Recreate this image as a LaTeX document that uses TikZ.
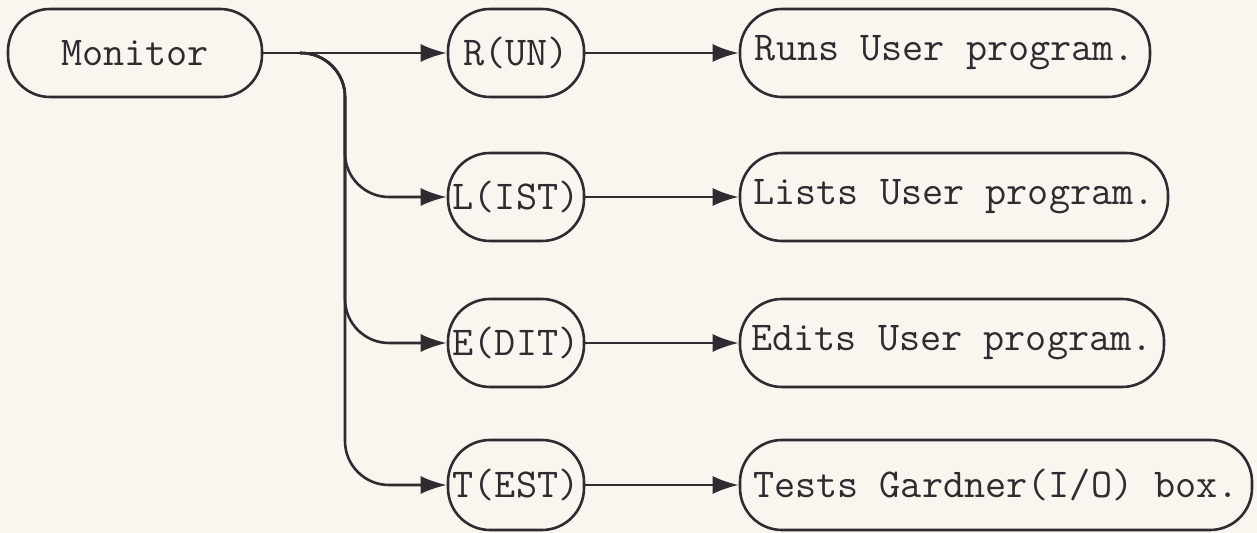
\documentclass[tikz,border=0pt]{standalone}
\usetikzlibrary{arrows.meta}
\definecolor{bg}{HTML}{F8F6EF}
\definecolor{ink}{HTML}{2E2C30}
\begin{document}
\begin{tikzpicture}[x=0.5pt,y=-0.5pt,
  box/.style={draw=ink,line width=1.3pt,rounded corners=21pt,minimum height=44pt,
    inner sep=0pt,text=ink,font=\fontsize{20.5}{22}\selectfont\ttfamily},
  conn/.style={draw=ink,line width=1.3pt,-{Latex[length=13pt,width=9pt]}},
  feed/.style={conn,rounded corners=22pt}]
\path[fill=bg] (0,0) rectangle (1257,533);
\node[box,minimum width=127pt] (mon) at (135,53) {Monitor};
\node[box,minimum width=68pt] (run) at (516,53) {R(UN)};
\node[box,minimum width=68pt] (lst) at (516,197) {L(IST)};
\node[box,minimum width=68pt] (edt) at (516,343) {E(DIT)};
\node[box,minimum width=68pt,minimum height=45pt] (tst) at (516,485) {T(EST)};
\node[box,minimum width=205pt] (runs) at (945,53) {Runs User program.};
\node[box,minimum width=214pt] (lists) at (954,197) {Lists User program.};
\node[box,minimum width=212pt] (edits) at (952,343) {Edits User program.};
\node[box,minimum width=256pt,minimum height=45pt] (tests) at (996,485) {Tests Gardner(I/O) box.};
\coordinate (split) at (300,53);
\coordinate (trunk) at (345,53);
\draw[conn] (mon.east) -- (run.west);
\draw[feed] (split) -| (trunk |- lst.west) -- (lst.west);
\draw[feed] (split) -| (trunk |- edt.west) -- (edt.west);
\draw[feed] (split) -| (trunk |- tst.west) -- (tst.west);
\draw[conn] (run.east) -- (runs.west);
\draw[conn] (lst.east) -- (lists.west);
\draw[conn] (edt.east) -- (edits.west);
\draw[conn] (tst.east) -- (tests.west);
\end{tikzpicture}
\end{document}
